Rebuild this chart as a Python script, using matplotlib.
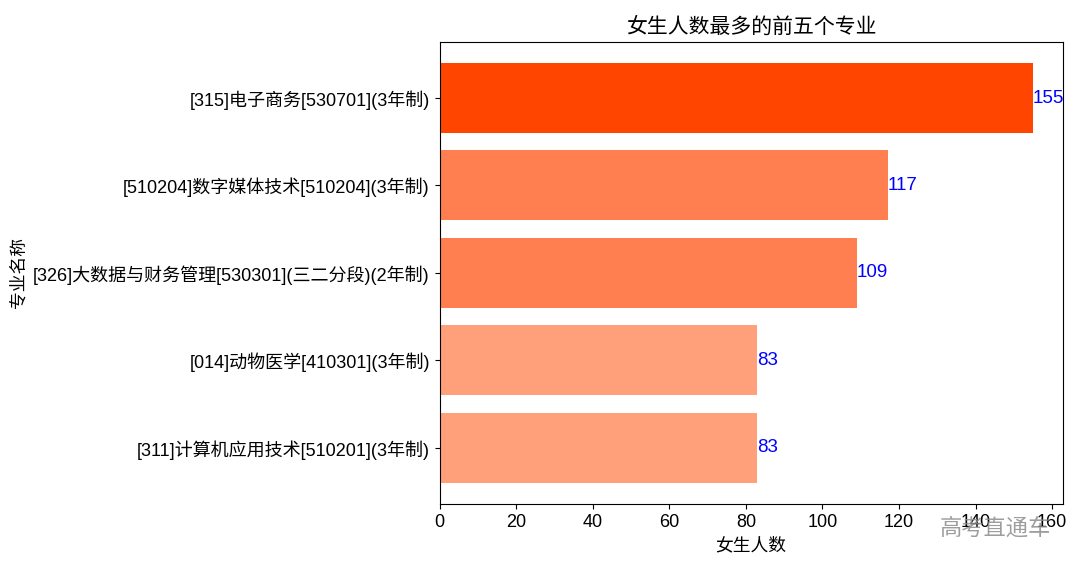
import matplotlib
matplotlib.use('Agg')
import matplotlib.pyplot as plt

plt.rcParams['font.family'] = ['Liberation Sans', 'Noto Sans CJK SC', 'DejaVu Sans']
plt.rcParams['axes.unicode_minus'] = False

# 数据
majors = [
    '[315]电子商务[530701](3年制)',
    '[510204]数字媒体技术[510204](3年制)',
    '[326]大数据与财务管理[530301](三二分段)(2年制)',
    '[014]动物医学[410301](3年制)',
    '[311]计算机应用技术[510201](3年制)',
]
counts = [155, 117, 109, 83, 83]
colors = ['#FF4500', '#FF7F50', '#FF7F50', '#FFA07A', '#FFA07A']

fig = plt.figure(figsize=(10.8, 5.68), dpi=100)
ax = fig.add_axes([0.407, 0.113, 0.577, 0.813])

y_pos = list(range(len(majors)))[::-1]
bars = ax.barh(y_pos, counts, color=colors)
ax.set_yticks(y_pos)
ax.set_yticklabels(majors, fontsize=13)
ax.tick_params(axis='x', labelsize=13)

for b, v in zip(bars, counts):
    ax.text(b.get_width(), b.get_y() + b.get_height() / 2, str(v),
            va='center', ha='left', color='blue', fontsize=13.5)

ax.set_title('女生人数最多的前五个专业', fontsize=15, pad=7)
ax.set_xlabel('女生人数', fontsize=12.8, labelpad=5)
ax.set_ylabel('专业名称', fontsize=12.8)

# 水印
fig.text(0.922, 0.068, '高考直通车', fontsize=16, color='#8c8c8c', alpha=0.85,
         ha='center', va='center')

plt.savefig('out.png', dpi=100)
plt.close()
